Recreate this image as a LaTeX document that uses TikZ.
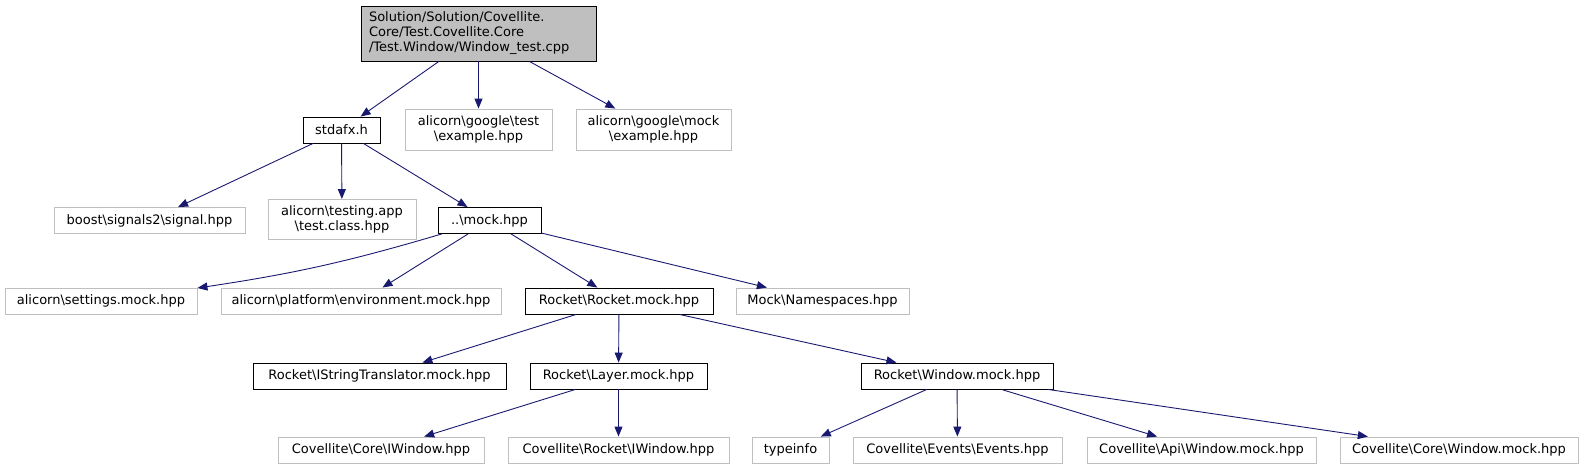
\documentclass[tikz,border=0pt]{standalone}
\usepackage{fontspec}
\setmainfont{DejaVu Sans}
\usetikzlibrary{arrows.meta}
\definecolor{grey75}{HTML}{BFBFBF}
\definecolor{edgeblue}{HTML}{191970}
\newcommand\bsl{\textbackslash}

\begin{document}
\begin{tikzpicture}[x=1pt,y=-1pt,>={Triangle[length=10pt,width=8pt]},
  file/.style={draw=black,fill=white,inner sep=0pt,minimum height=26pt,
    line width=0.9pt,font=\fontsize{13}{15}\selectfont},
  ext/.style={file,draw=grey75},
  inc/.style={->,draw=edgeblue,line width=0.9pt}]
  \useasboundingbox (0,0) rectangle (1585,469);
  % top
  \node[file,fill=grey75,align=left,minimum width=235pt,minimum height=55pt,
    text width=219pt] (root)
    at (478.5,33.5) {Solution/Solution/Covellite.\\Core/Test.Covellite.Core\\/Test.Window/Window\_test.cpp};
  \node[file,minimum width=77pt] (stdafx) at (341.5,130) {stdafx.h};
  \node[ext,align=center,minimum width=147pt,minimum height=41pt] (gtest)
    at (478.5,129.5) {alicorn\bsl google\bsl test\\\bsl example.hpp};
  \node[ext,align=center,minimum width=155pt,minimum height=41pt] (gmock)
    at (653.5,129.5) {alicorn\bsl google\bsl mock\\\bsl example.hpp};
  % second row
  \node[ext,minimum width=191pt] (signal) at (149.5,220.5) {boost\bsl signals2\bsl signal.hpp};
  \node[ext,align=center,minimum width=148pt,minimum height=40pt] (testapp)
    at (342,219.5) {alicorn\bsl testing.app\\\bsl test.class.hpp};
  \node[file,minimum width=103pt] (mock) at (489.5,220.5) {..\bsl mock.hpp};
  % third row
  \node[ext,minimum width=192pt] (settings) at (101,301) {alicorn\bsl settings.mock.hpp};
  \node[ext,minimum width=280pt] (env) at (361,301) {alicorn\bsl platform\bsl environment.mock.hpp};
  \node[file,minimum width=188pt] (rocket) at (619,301) {Rocket\bsl Rocket.mock.hpp};
  \node[ext,minimum width=173pt] (ns) at (822.5,301) {Mock\bsl Namespaces.hpp};
  % fourth row
  \node[file,minimum width=253pt] (istr) at (379.5,376) {Rocket\bsl IStringTranslator.mock.hpp};
  \node[file,minimum width=177pt] (layer) at (618.5,376) {Rocket\bsl Layer.mock.hpp};
  \node[file,minimum width=192pt] (window) at (957,376) {Rocket\bsl Window.mock.hpp};
  % bottom
  \node[ext,minimum width=206pt] (coreiw) at (381,450) {Covellite\bsl Core\bsl IWindow.hpp};
  \node[ext,minimum width=221pt] (rocketiw) at (618.5,450) {Covellite\bsl Rocket\bsl IWindow.hpp};
  \node[ext,minimum width=77pt] (typeinfo) at (790.5,450) {typeinfo};
  \node[ext,minimum width=209pt] (events) at (957.5,450) {Covellite\bsl Events\bsl Events.hpp};
  \node[ext,minimum width=229pt] (apiwin) at (1201.5,450) {Covellite\bsl Api\bsl Window.mock.hpp};
  \node[ext,minimum width=238pt] (corewin) at (1459,450) {Covellite\bsl Core\bsl Window.mock.hpp};
  % includes
  \draw[inc] (root) -- (stdafx);
  \draw[inc] (root) -- (gtest);
  \draw[inc] (root) -- (gmock);
  \draw[inc] (stdafx) -- (signal);
  \draw[inc] (stdafx) -- (testapp);
  \draw[inc] (stdafx) -- (mock);
  \draw[inc] (mock) to[bend left=4] (settings);
  \draw[inc] (mock) -- (env);
  \draw[inc] (mock) -- (rocket);
  \draw[inc] (mock) -- (ns);
  \draw[inc] (rocket) -- (istr);
  \draw[inc] (rocket) -- (layer);
  \draw[inc] (rocket) -- (window);
  \draw[inc] (layer) -- (coreiw);
  \draw[inc] (layer) -- (rocketiw);
  \draw[inc] (window) -- (typeinfo);
  \draw[inc] (window) -- (events);
  \draw[inc] (window) -- (apiwin);
  \draw[inc] (window) -- (corewin);
\end{tikzpicture}
\end{document}
